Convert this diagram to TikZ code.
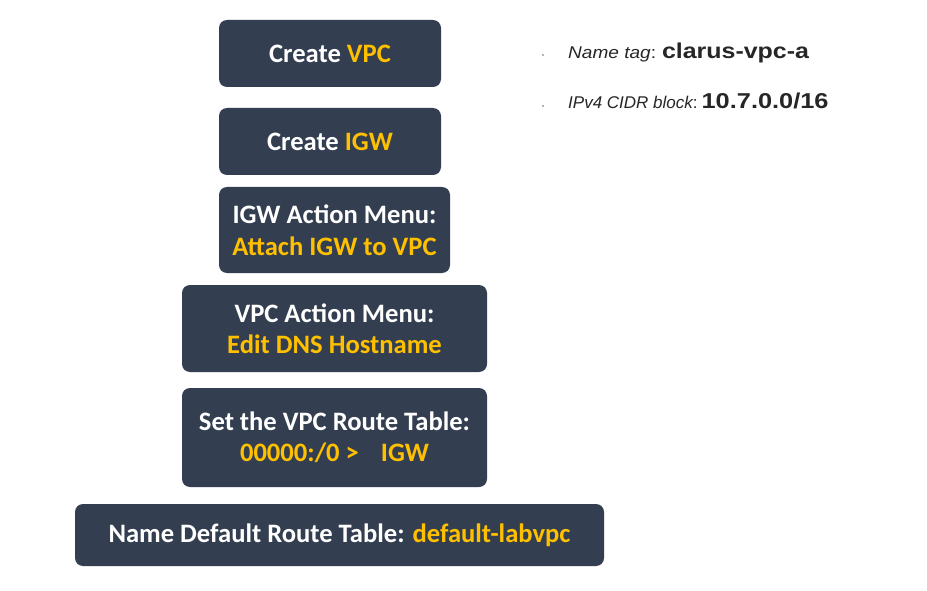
\documentclass[tikz,border=0pt]{standalone}
\usepackage{fontspec}
\setmainfont{Carlito}
\newfontfamily\arialf{Liberation Sans}
\usepackage{graphicx}
\definecolor{boxc}{HTML}{333F50}
\definecolor{hl}{HTML}{FFC000}
\definecolor{txt}{HTML}{262626}
\tikzset{
  stepbox/.style={fill=boxc, draw=none, rounded corners=8pt, text=white,
    font=\fontsize{26.6}{31.5}\selectfont\bfseries, align=center, inner sep=0pt},
  bul/.style={circle, fill=gray!80, inner sep=0pt, minimum size=2.4pt},
  info/.style={anchor=base west, inner sep=0pt, text=txt}
}
\newcommand{\hy}[1]{\textcolor{hl}{#1}}
\newcommand{\itpart}[2]{\scalebox{#1}[1]{\arialf\fontsize{17}{20}\selectfont\itshape #2\upshape:}}
\newcommand{\bdpart}[2]{\scalebox{#1}[1]{\arialf\fontsize{21.5}{24}\selectfont\bfseries #2}}
\begin{document}
\begin{tikzpicture}[x=1pt,y=-1pt]
\useasboundingbox (0,0) rectangle (927,591);
\fill[white] (0,0) rectangle (927,591);
\node[stepbox, minimum width=222pt, minimum height=67pt] (b1) at (330,53.5) {Create \hy{VPC}};
\node[stepbox, minimum width=222pt, minimum height=67pt] (b2) at (330,141.5) {Create \hy{IGW}};
\node[stepbox, minimum width=231pt, minimum height=86pt] (b3) at (334.5,230) {IGW Action Menu:\\\hy{Attach IGW to VPC}};
\node[stepbox, minimum width=305pt, minimum height=87pt] (b4) at (334.5,328.5) {VPC Action Menu:\\\hy{Edit DNS Hostname}};
\node[stepbox, minimum width=305pt, minimum height=99pt] (b5) at (334.5,437.5) {Set the VPC Route Table:\\\hy{00000:/0 >\hspace{22pt}IGW}};
\node[stepbox, minimum width=529pt, minimum height=62pt] (b6) at (339.5,535) {Name Default Route Table: \hy{default-labvpc}};
\node[bul] (d1) at (543,55) {};
\node[bul] (d2) at (543,106) {};
\node[info] (t1) at (568,59) {\itpart{1.12}{Name tag}\hspace{6pt}\bdpart{1.16}{clarus-vpc-a}};
\node[info] (t2) at (568,109) {\itpart{1.0}{IPv4 CIDR block}\hspace{4pt}\bdpart{1.18}{10.7.0.0/16}};
\end{tikzpicture}
\end{document}
